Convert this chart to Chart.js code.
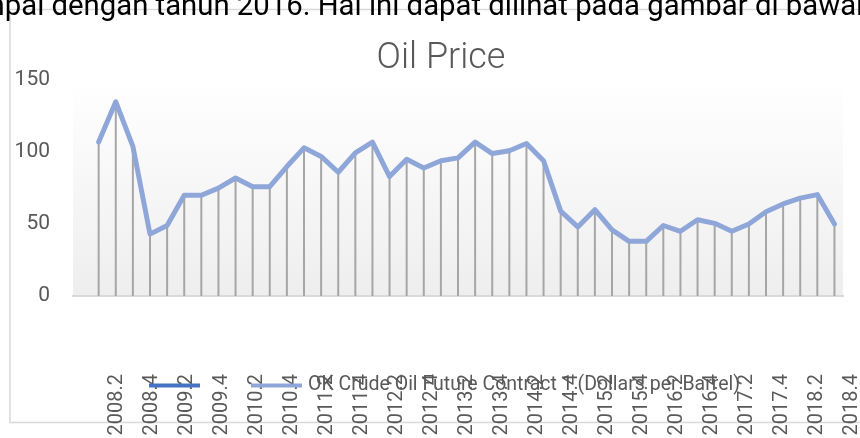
<!DOCTYPE html>
<html><head><meta charset="utf-8">
<script src="https://cdn.jsdelivr.net/npm/chart.js@4.4.1/dist/chart.umd.min.js"></script>
<style>
html,body{margin:0;padding:0;background:#fff;overflow:hidden;}
#wrap{position:relative;width:860px;height:438px;overflow:hidden;}
#c{position:absolute;left:0;top:0;}
#doc{position:absolute;left:-52px;top:-9px;font-family:Roboto,sans-serif;font-size:29.3px;line-height:1;color:#000;white-space:nowrap;}
</style></head><body>
<div id="wrap"><canvas id="c" width="860" height="480"></canvas><div id="doc">sampai dengan tahun 2016. Hal ini dapat dilihat pada gambar di bawah ini.</div></div>
<script>
const chartTitle = 'Oil Price';
const seriesNames = ['', 'OK Crude Oil Future Contract 1 (Dollars per Barrel)'];
// leading blank category as in the source sheet
const categories = ['',
 '2008.1','2008.2','2008.3','2008.4','2009.1','2009.2','2009.3','2009.4',
 '2010.1','2010.2','2010.3','2010.4','2011.1','2011.2','2011.3','2011.4',
 '2012.1','2012.2','2012.3','2012.4','2013.1','2013.2','2013.3','2013.4',
 '2014.1','2014.2','2014.3','2014.4','2015.1','2015.2','2015.3','2015.4',
 '2016.1','2016.2','2016.3','2016.4','2017.1','2017.2','2017.3','2017.4',
 '2018.1','2018.2','2018.3','2018.4'];
const oilPrice = [null,
 107, 135, 104, 43,
 49, 70, 70, 75,
 82, 76, 76, 90,
 103, 97, 86, 99.5,
 107, 83, 95, 89,
 94, 96, 107, 99,
 101, 106, 94, 59,
 48, 60, 46, 38,
 38, 49, 45, 53,
 50.5, 45, 50, 58.5,
 64, 68, 70.5, 50];
const emptySeries = [];
const yTicks = [0, 50, 100, 150];
// every second category carries a visible label
const labelIndices = categories.map((c, i) => i).filter(i => i % 2 === 0);

const FONT = 'Roboto';
const GRAY = '#595959';

const framePlugin = {
  id: 'frame',
  afterLayout(chart) {
    const t = chart.titleBlock;
    if (t) { t.left = 22; t.right = 860; }
  },
  beforeDraw(chart) {
    const {ctx, chartArea: a} = chart;
    ctx.save();
    ctx.strokeStyle = '#d9d9d9';
    ctx.lineWidth = 1.5;
    ctx.strokeRect(10, 9.5, 1000, 413);
    const g = ctx.createLinearGradient(0, a.top, 0, a.bottom);
    g.addColorStop(0, '#ffffff');
    g.addColorStop(1, '#eeeeee');
    ctx.fillStyle = g;
    ctx.fillRect(a.left, a.top, a.right - a.left, a.bottom - a.top);
    ctx.restore();
  }
};

const dropLinePlugin = {
  id: 'droplines',
  beforeDatasetsDraw(chart) {
    const {ctx} = chart;
    const y0 = chart.scales.y.getPixelForValue(0);
    const meta = chart.getDatasetMeta(1);
    ctx.save();
    ctx.strokeStyle = '#a6a6a6';
    ctx.lineWidth = 2;
    meta.data.forEach(p => {
      if (p.skip) return;
      ctx.beginPath();
      ctx.moveTo(p.x, p.y);
      ctx.lineTo(p.x, y0);
      ctx.stroke();
    });
    ctx.restore();
  }
};

const legendPlugin = {
  id: 'overlayLegend',
  afterDraw(chart) {
    const {ctx} = chart;
    let x = 149;
    const y = 385.5, boxW = 51, textGap = 6, itemGap = 45;
    ctx.save();
    ctx.font = '19.5px ' + FONT;
    ctx.textBaseline = 'middle';
    ctx.textAlign = 'left';
    chart.data.datasets.forEach(ds => {
      ctx.strokeStyle = ds.borderColor;
      ctx.lineWidth = 4;
      ctx.lineCap = 'butt';
      ctx.beginPath();
      ctx.moveTo(x, y);
      ctx.lineTo(x + boxW, y);
      ctx.stroke();
      ctx.fillStyle = GRAY;
      ctx.fillText(ds.label, x + boxW + textGap, y);
      x += boxW + textGap + ctx.measureText(ds.label).width + itemGap;
    });
    ctx.restore();
  }
};

new Chart(document.getElementById('c'), {
  type: 'line',
  data: {
    labels: categories,
    datasets: [
      {label: seriesNames[0], data: emptySeries, borderColor: '#4472c4', borderWidth: 4, pointRadius: 0},
      {label: seriesNames[1], data: oilPrice, borderColor: '#8fa6d9', borderWidth: 5,
       pointRadius: 0, tension: 0, fill: false, borderJoinStyle: 'round', borderCapStyle: 'round', spanGaps: false}
    ]
  },
  options: {
    responsive: false,
    animation: false,
    devicePixelRatio: 1,
    layout: {padding: {left: 0, right: 17, top: 0, bottom: 0}},
    plugins: {
      legend: {display: false},
      tooltip: {enabled: false},
      title: {display: true, text: chartTitle, color: GRAY,
        font: {family: FONT, size: 36, weight: '300'}, padding: {top: 37, bottom: 0}}
    },
    scales: {
      x: {
        type: 'category',
        offset: true,
        display: false
      },
      // label axis: the source's category labels sit on a slightly wider grid
      xLabels: {
        type: 'linear',
        position: 'bottom',
        min: -0.5,
        max: categories.length - 1.5,
        grid: {display: false, drawTicks: false},
        border: {display: true, color: '#d9d9d9', width: 2},
        afterBuildTicks: s => { s.ticks = labelIndices.map(v => ({value: v})); },
        ticks: {autoSkip: false, maxRotation: 90, minRotation: 90, padding: 78, color: GRAY,
          font: {family: FONT, size: 20},
          callback: v => categories[v]},
        afterFit: s => { s.height = 480 - 296; s.paddingLeft = 0; s.paddingRight = 0; }
      },
      y: {
        min: 0, max: 150,
        grid: {display: false, drawTicks: false},
        border: {display: false},
        ticks: {stepSize: 50, padding: 23, color: GRAY, font: {family: FONT, size: 21},
          callback: v => (yTicks.includes(v) ? String(v) : '')},
        afterFit: s => { s.width = 73; }
      }
    }
  },
  plugins: [framePlugin, dropLinePlugin, legendPlugin]
});
</script>
</body></html>
